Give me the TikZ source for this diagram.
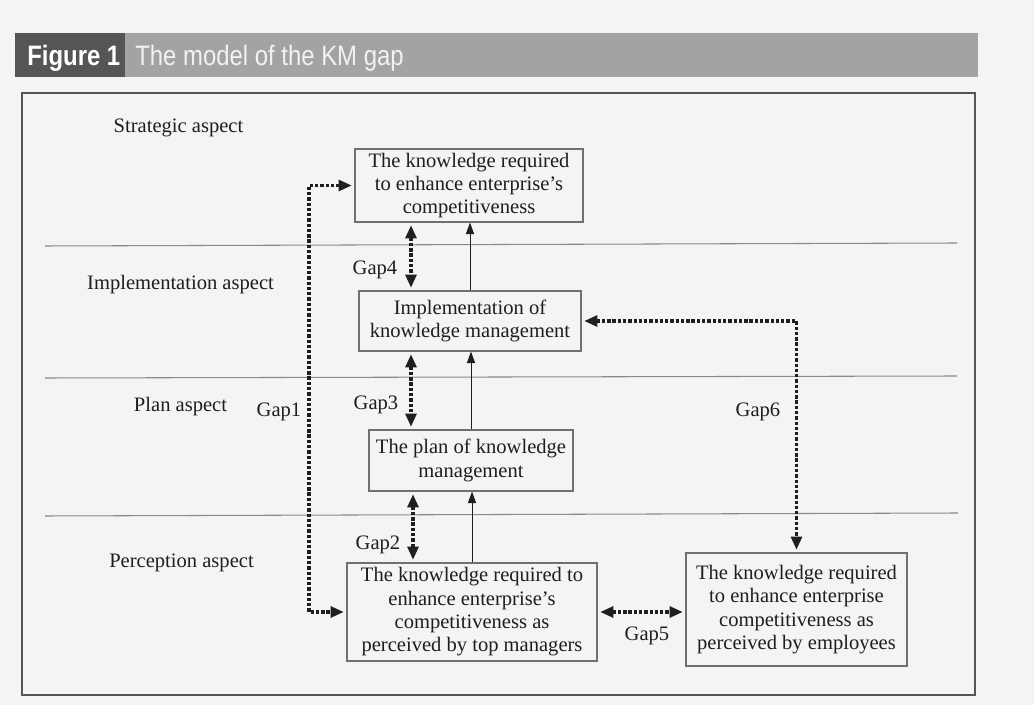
\documentclass[tikz,border=0pt]{standalone}
\usepackage{fontspec}
\setmainfont{Liberation Serif}
\newfontfamily\hdrfont[FakeStretch=0.85]{Liberation Sans}
\usetikzlibrary{arrows.meta,calc}
\definecolor{bgc}{HTML}{F4F4F4}
\definecolor{txt}{HTML}{1E1E1E}
\definecolor{boxc}{HTML}{707070}
\definecolor{linec}{HTML}{8A8A8A}
\definecolor{framec}{HTML}{555555}
\definecolor{hdrdark}{HTML}{555555}
\definecolor{hdrlight}{HTML}{A3A3A3}
\tikzset{
  kbox/.style={draw=boxc, line width=0.7pt, align=center, text=txt, inner sep=0pt,
    font=\fontsize{11.7}{13.3}\selectfont},
  lbl/.style={text=txt, inner sep=0pt, font=\fontsize{11.7}{13.3}\selectfont},
  sep/.style={draw=linec, line width=0.6pt},
  uparr/.style={draw=txt, line width=0.5pt, -{Triangle[length=6.5pt,width=4.6pt]}},
  gaparr/.style={draw=black!88, line width=1.8pt, dash pattern=on 1.9pt off 1.1pt,
    {Triangle[length=7.5pt,width=6.2pt]}-{Triangle[length=7.5pt,width=6.2pt]},
    shorten <=1.5pt, shorten >=1.5pt},
}
\begin{document}
\begin{tikzpicture}[x=0.02cm,y=-0.02cm]
\fill[bgc] (0,0) rectangle (1034,705);
\useasboundingbox (0,0) rectangle (1034,705);
% header
\fill[hdrlight] (125,33) rectangle (978,77);
\fill[hdrdark] (15,33) rectangle (125,77);
\node[anchor=base west, text=white, inner sep=0pt, font=\hdrfont\fontsize{16}{18}\selectfont\bfseries] (fig) at (27,66) {Figure 1};
\node[anchor=base west, text=white!95!black, inner sep=0pt, font=\hdrfont\fontsize{16}{18}\selectfont] (ttl) at (135,66) {The model of the KM gap};
% frame
\draw[framec, line width=1.3pt] (22,93) rectangle (975,695);
% separators
\draw[sep] (45,246) -- (957,243);
\draw[sep] (45,378) -- (957,376);
\draw[sep] (45,516) -- (958,513);
% aspect labels
\node[lbl] (a1) at (178.5,128) {Strategic aspect};
\node[lbl] (a2) at (180.5,285) {Implementation aspect};
\node[lbl] (a3) at (180.5,407) {Plan aspect};
\node[lbl] (a4) at (181.5,563) {Perception aspect};
% boxes
\node[kbox, minimum width=4.56cm, minimum height=1.46cm] (B1) at (469,185.5)
  {The knowledge required\\to enhance enterprise's\\competitiveness};
\node[kbox, minimum width=4.44cm, minimum height=1.2cm] (B2) at (470,321)
  {Implementation of\\knowledge management};
\node[kbox, minimum width=4.08cm, minimum height=1.22cm] (B3) at (471,460.5)
  {The plan of knowledge\\management};
\node[kbox, minimum width=5.0cm, minimum height=1.96cm] (B4) at (472,612)
  {The knowledge required to\\enhance enterprise's\\competitiveness as\\perceived by top managers};
\node[kbox, minimum width=4.42cm, minimum height=2.26cm] (B5) at (796.5,609.5)
  {The knowledge required\\to enhance enterprise\\competitiveness as\\perceived by employees};
% solid arrows
\draw[uparr] (B2.north) -- (B2.north |- B1.south);
\draw[uparr] (B3.north) -- (B3.north |- B2.south);
\draw[uparr] (B4.north) -- (B4.north |- B3.south);
% gap helper coordinates
\coordinate (g4) at (411,0);
\coordinate (g3) at (411,0);
\coordinate (g2) at (413,0);
\coordinate (g1) at (309,400);
% gap arrows
\draw[gaparr] (B1.south -| g4) -- (B2.north -| g4);
\draw[gaparr] (B2.south -| g3) -- (B3.north -| g3);
\draw[gaparr] (B3.south -| g2) -- (B4.north -| g2);
\draw[gaparr] (B1.west) -| (g1) |- (B4.west);
\draw[gaparr] (B2.east) -| (B5.north);
\draw[gaparr] (B4.east) -- (B4.east -| B5.west);
% gap labels
\node[lbl] (G4) at (375,270) {Gap4};
\node[lbl] (G3) at (376,405) {Gap3};
\node[lbl] (G2) at (378,545) {Gap2};
\node[lbl] (G1) at (279,412) {Gap1};
\node[lbl] (G6) at (758,412) {Gap6};
\node[lbl] (G5) at (647,636) {Gap5};
\end{tikzpicture}
\end{document}
